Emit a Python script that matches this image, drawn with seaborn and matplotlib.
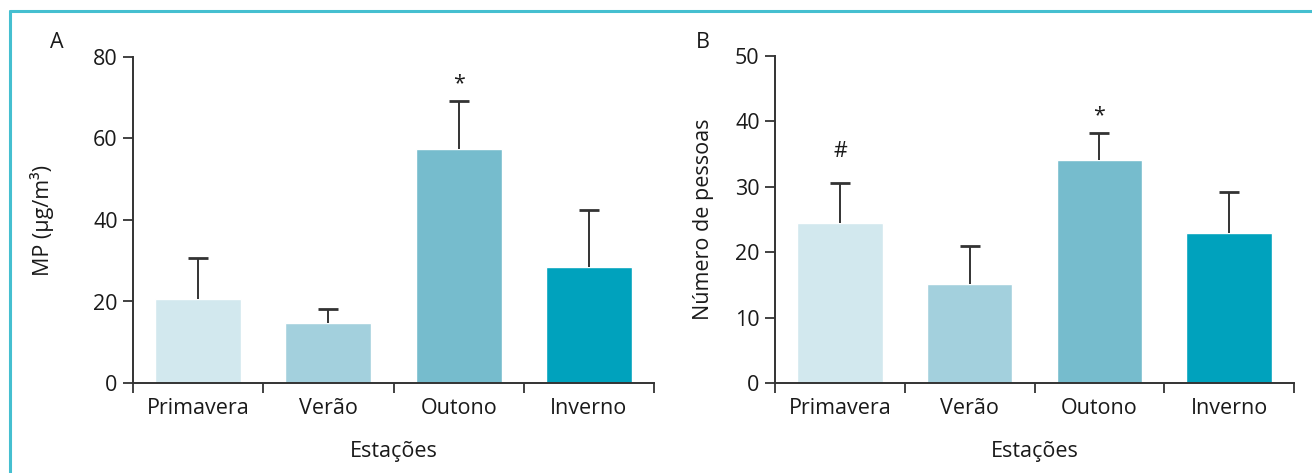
import numpy as np
import pandas as pd
import matplotlib
matplotlib.use("Agg")
import matplotlib.pyplot as plt
from matplotlib.lines import Line2D
import seaborn as sns

estacoes = ["Primavera", "Verão", "Outono", "Inverno"]
cores = ["#d2e8ee", "#a3d0dd", "#76bccd", "#00a2bd"]

# Painel A: material particulado
mp_media = [20.6, 14.7, 57.4, 28.5]
mp_dp = [10.1, 3.5, 11.8, 14.0]
mp_marcas = ["", "", "*", ""]

# Painel B: numero de pessoas
pessoas_media = [24.4, 15.1, 34.1, 22.9]
pessoas_dp = [6.2, 5.9, 4.2, 6.3]
pessoas_marcas = ["#", "", "*", ""]

sns.set_style("white")
plt.rcParams["font.family"] = ["Open Sans", "DejaVu Sans"]
plt.rcParams["text.color"] = "#1a1a1a"
plt.rcParams["axes.labelcolor"] = "#1a1a1a"
plt.rcParams["xtick.color"] = "#333333"
plt.rcParams["ytick.color"] = "#333333"
plt.rcParams["xtick.labelcolor"] = "#1a1a1a"
plt.rcParams["ytick.labelcolor"] = "#1a1a1a"

FS = 15.5

fig = plt.figure(figsize=(13.12, 4.73), dpi=100)

# moldura azul
borda = "#45bfd0"
fig.add_artist(Line2D([10 / 1312, 1.0], [1 - 11 / 473] * 2, color=borda, lw=2.2))
fig.add_artist(Line2D([10 / 1312] * 2, [0.0, 1 - 11 / 473], color=borda, lw=2.2))


def painel(ax, media, dp, marcas, ymax, passo, ylabel, ylabelpad):
    df = pd.DataFrame({"Estação": estacoes, "valor": media})
    sns.barplot(data=df, x="Estação", y="valor", hue="Estação", palette=cores,
                width=0.66, saturation=1, legend=False, ax=ax, errorbar=None)
    eb = ax.errorbar(np.arange(len(media)), media, yerr=[np.zeros(len(dp)), dp],
                     fmt="none", ecolor="#333333", elinewidth=1.4, capsize=7, capthick=2)
    eb[1][0].remove()  # sem traco inferior
    for i, m in enumerate(marcas):
        if m:
            off = 31 if m == "#" else 17
            ax.annotate(m, (i, media[i] + dp[i]), xytext=(0, off), textcoords="offset pixels",
                        ha="center", va="center", fontsize=FS)
    ax.set_xlim(-0.5, 3.5)
    ax.set_ylim(0, ymax)
    ax.set_yticks(np.arange(0, ymax + 1, passo))
    ax.set_xticks(np.arange(-0.5, 4.0, 1.0), minor=True)
    ax.tick_params(axis="x", which="major", length=0, labelsize=FS, pad=11)
    ax.tick_params(axis="x", which="minor", length=7, width=1.3, direction="out", bottom=True)
    ax.tick_params(axis="y", length=7, width=1.3, direction="out", labelsize=FS, pad=4, left=True)
    sns.despine(ax=ax)
    for s in ("left", "bottom"):
        ax.spines[s].set_color("#333333")
        ax.spines[s].set_linewidth(1.4)
    ax.set_xlabel("Estações", fontsize=FS, labelpad=16)
    ax.set_ylabel(ylabel, fontsize=FS, labelpad=ylabelpad)


ax_a = fig.add_axes([133 / 1312, 1 - 383 / 473, 521 / 1312, 326 / 473])
painel(ax_a, mp_media, mp_dp, mp_marcas, 80, 20, "MP (µg/m³)", 28)
fig.text(50 / 1312, 1 - 42 / 473, "A", fontsize=FS, ha="left", va="center")

ax_b = fig.add_axes([775 / 1312, 1 - 383 / 473, 519 / 1312, 327 / 473])
painel(ax_b, pessoas_media, pessoas_dp, pessoas_marcas, 50, 10, "Número de pessoas", 15)
fig.text(696 / 1312, 1 - 42 / 473, "B", fontsize=FS, ha="left", va="center")

fig.savefig("out.png", dpi=100)
